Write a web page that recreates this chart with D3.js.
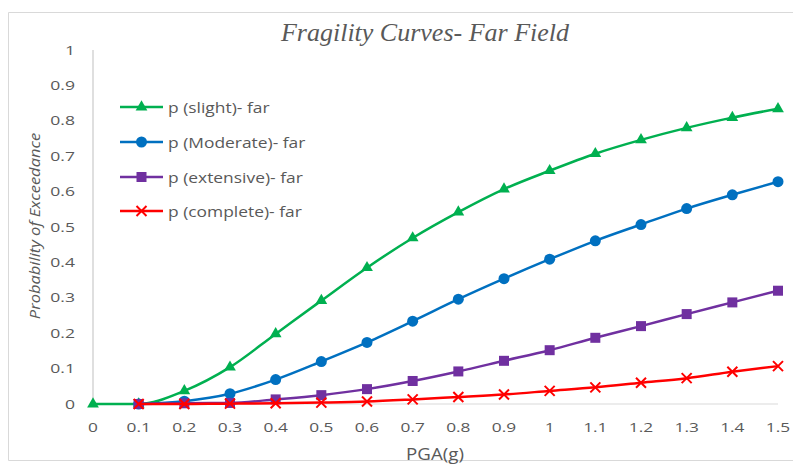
<!DOCTYPE html>
<html><head><meta charset="utf-8">
<script src="https://cdn.jsdelivr.net/npm/d3@7"></script>
<style>body{margin:0;background:#fff}svg{display:block}</style>
</head><body><svg id="c" width="793" height="464"></svg>
<script>
const xTicks = [0,0.1,0.2,0.3,0.4,0.5,0.6,0.7,0.8,0.9,1,1.1,1.2,1.3,1.4,1.5];
const yTicks = [0,0.1,0.2,0.3,0.4,0.5,0.6,0.7,0.8,0.9,1];
const pgaSlight = [0,0.1,0.2,0.3,0.4,0.5,0.6,0.7,0.8,0.9,1,1.1,1.2,1.3,1.4,1.5];
const slight = [0,0,0.037,0.104,0.198,0.292,0.385,0.469,0.542,0.607,0.659,0.707,0.746,0.78,0.809,0.834];
const pga = [0.1,0.2,0.3,0.4,0.5,0.6,0.7,0.8,0.9,1,1.1,1.2,1.3,1.4,1.5];
const moderate = [0,0.008,0.029,0.069,0.12,0.174,0.234,0.296,0.354,0.409,0.461,0.507,0.552,0.591,0.628];
const extensive = [0,0.002,0.003,0.013,0.025,0.042,0.065,0.092,0.122,0.152,0.187,0.22,0.254,0.287,0.32];
const complete = [0,0,0.001,0.002,0.004,0.007,0.013,0.02,0.027,0.037,0.047,0.06,0.073,0.091,0.107];
const seriesNames = ["p (slight)- far","p (Moderate)- far","p (extensive)- far","p (complete)- far"];
const colors = ["#00B050","#0070C0","#7030A0","#FF0000"];
const markers = ["triangle","circle","square","cross"];

const svg = d3.select("#c");
// outer border (top, left, bottom)
svg.append("path").attr("d","M793,12.5H8.5V460.5H793").attr("fill","none").attr("stroke","#d9d9d9");

const x = d3.scaleLinear().domain([0,1.5]).range([93,778]);
const y = d3.scaleLinear().domain([0,1]).range([404,50]);

svg.append("line").attr("x1",x(0)).attr("x2",x(0)).attr("y1",y(1)).attr("y2",y(0)).attr("stroke","#bfbfbf");
svg.append("line").attr("x1",x(0)).attr("x2",x(1.5)).attr("y1",y(0)).attr("y2",y(0)).attr("stroke","#d9d9d9");

const txt = "#595959";
const font = "Open Sans, sans-serif";
function stretched(sel, tx, ty, sx, anchor){
  return sel.attr("transform",`translate(${tx},${ty}) scale(${sx},1)`).attr("text-anchor",anchor);
}
const yg = svg.append("g");
yTicks.forEach(d=>{
  stretched(yg.append("text"),75,y(d)+4.5,1.35,"end")
    .attr("font-family",font).attr("font-size",13).attr("fill",txt).text(d3.format("")(d));
});
const xg = svg.append("g");
xTicks.forEach(d=>{
  stretched(xg.append("text"),x(d),432,1.28,"middle")
    .attr("font-family",font).attr("font-size",13.5).attr("fill",txt).text(d3.format("")(d));
});

stretched(svg.append("text"),435,460,1.1,"middle")
  .attr("font-family",font).attr("font-size",17).attr("fill",txt).text("PGA(g)");
svg.append("text").attr("transform","translate(40,226) rotate(-90) scale(1.1,1)").attr("text-anchor","middle")
  .attr("font-family",font).attr("font-style","italic").attr("font-size",15).attr("fill",txt)
  .text("Probability of Exceedance");
svg.append("text").attr("x",425).attr("y",41).attr("text-anchor","middle")
  .attr("font-family","Liberation Serif, serif").attr("font-style","italic").attr("font-size",26).attr("fill",txt)
  .text("Fragility Curves- Far Field");

const data = [
  pgaSlight.map((p,i)=>[p,slight[i]]),
  pga.map((p,i)=>[p,moderate[i]]),
  pga.map((p,i)=>[p,extensive[i]]),
  pga.map((p,i)=>[p,complete[i]])
];
const line = d3.line().x(d=>x(d[0])).y(d=>y(d[1])).curve(d3.curveMonotoneX);

function drawMarker(g, type, cx, cy, color){
  if(type==="triangle"){
    g.append("path").attr("d",d3.symbol(d3.symbolTriangle,60)()).attr("transform",`translate(${cx},${cy})`).attr("fill",color);
  } else if(type==="circle"){
    g.append("circle").attr("cx",cx).attr("cy",cy).attr("r",5.5).attr("fill",color);
  } else if(type==="square"){
    g.append("rect").attr("x",cx-5).attr("y",cy-5).attr("width",10).attr("height",10).attr("fill",color);
  } else {
    g.append("path").attr("d",`M${cx-5},${cy-5}L${cx+5},${cy+5}M${cx-5},${cy+5}L${cx+5},${cy-5}`)
      .attr("stroke",color).attr("stroke-width",2);
  }
}

data.forEach((s,k)=>{
  const g = svg.append("g");
  g.append("path").datum(s).attr("d",line).attr("fill","none").attr("stroke",colors[k]).attr("stroke-width",2.5);
  s.forEach(d=>drawMarker(g, markers[k], x(d[0]), y(d[1]), colors[k]));
});

const ly = [107,142,177,211];
seriesNames.forEach((n,k)=>{
  const g = svg.append("g");
  g.append("line").attr("x1",120).attr("x2",163).attr("y1",ly[k]).attr("y2",ly[k]).attr("stroke",colors[k]).attr("stroke-width",2.5);
  drawMarker(g, markers[k], 141.5, ly[k], colors[k]);
  stretched(g.append("text"),168,ly[k]+5.5,1.16,"start")
    .attr("font-family",font).attr("font-size",15).attr("fill",txt).text(n);
});
</script></body></html>
